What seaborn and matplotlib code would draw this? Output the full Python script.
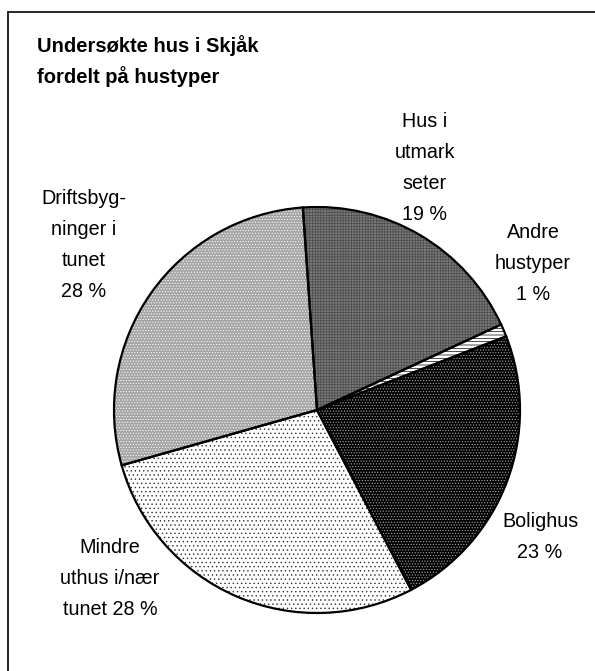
import matplotlib
matplotlib.use("Agg")
import matplotlib.pyplot as plt
import seaborn as sns
from matplotlib.lines import Line2D

# Data
categories = ["Hus i\nutmark\nseter", "Andre\nhustyper", "Bolighus",
              "Mindre\nuthus i/nær\ntunet", "Driftsbyg-\nninger i\ntunet"]
percents = [19, 1, 23, 28, 28]
pct_sep = ["\n", "\n", "\n", " ", "\n"]

sns.set_theme(style="white")
plt.rcParams['font.family'] = ['Liberation Sans', 'DejaVu Sans']
plt.rcParams['hatch.linewidth'] = 0.5

# fill styles (face, hatch, hatch colour)
faces = ["#7a7a7a", "white", "#000000", "white", "#a4a4a4"]
hatches = ["++++++", "-----", "......", "....", "......"]
hatch_cols = ["#4a4a4a", "black", "#a8a8a8", "#333333", "white"]

# label positions in pie units (radius = 1)
label_xy = [(0.53, 1.19), (1.064, 0.724), (1.099, -0.626),
            (-1.02, -0.828), (-1.148, 0.813)]

W, H = 595, 671
fig = plt.figure(figsize=(W / 100, H / 100), dpi=100)
fig.patch.set_facecolor("white")

cx, cy, R = 317, 410, 203
ax = fig.add_axes([(cx - R) / W, 1 - (cy + R) / H, 2 * R / W, 2 * R / H])

wedges, _ = ax.pie(percents, startangle=94, counterclock=False, radius=1,
                   colors=faces, wedgeprops=dict(linewidth=0))
for w, h, hc in zip(wedges, hatches, hatch_cols):
    w.set_hatch(h)
    w.set_edgecolor(hc)

# outlines on top
ax.pie(percents, startangle=94, counterclock=False, radius=1,
       wedgeprops=dict(fill=False, edgecolor="black", linewidth=1.6))

for cat, p, sep, (x, y) in zip(categories, percents, pct_sep, label_xy):
    ax.text(x, y, f"{cat}{sep}{p} %", ha="center", va="center",
            fontsize=14.2, linespacing=1.8, color="black")

ax.set_xlim(-1, 1)
ax.set_ylim(-1, 1)
ax.set_aspect("equal")
ax.axis("off")

fig.text(37 / W, 1 - 61 / H, "Undersøkte hus i Skjåk\nfordelt på hustyper",
         ha="left", va="center", fontsize=14.5, fontweight="bold",
         linespacing=1.6, color="black")

# chart area frame (only left and top edges visible)
fig.add_artist(Line2D([8 / W, 8 / W], [0, 1 - 12 / H], transform=fig.transFigure,
                      color="black", linewidth=1.2))
fig.add_artist(Line2D([8 / W, 1], [1 - 12 / H, 1 - 12 / H], transform=fig.transFigure,
                      color="black", linewidth=1.2))

fig.savefig("out.png", dpi=100)
